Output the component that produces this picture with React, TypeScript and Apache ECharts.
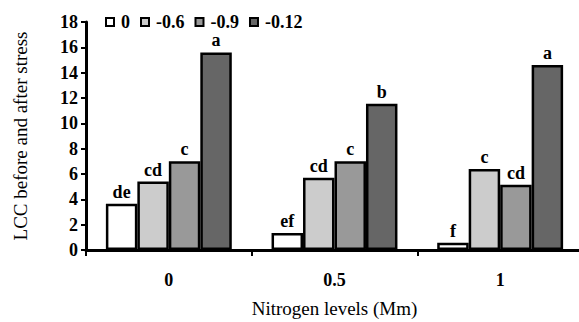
import React, { useEffect, useRef } from "react";
import * as echarts from "echarts";

const categories = ["0", "0.5", "1"];
const seriesNames = ["0", "-0.6", "-0.9", "-0.12"];
const s0 = [3.65, 1.35, 0.57];
const s1 = [5.4, 5.7, 6.4];
const s2 = [7.0, 7.0, 5.15];
const s3 = [15.6, 11.55, 14.6];
const letters0 = ["de", "ef", "f"];
const letters1 = ["cd", "cd", "c"];
const letters2 = ["c", "c", "cd"];
const letters3 = ["a", "b", "a"];
const colors = ["#ffffff", "#cccccc", "#999999", "#666666"];

const FONT = "Liberation Serif";
const boldText = { fontFamily: FONT, fontWeight: "bold" as const, fontSize: 18, color: "#000" };

export default function App() {
  const ref = useRef<HTMLDivElement>(null);
  useEffect(() => {
    document.body.style.margin = "0";
    if (!ref.current) return;
    const chart = echarts.init(ref.current, null, { renderer: "svg" });
    const values = [s0, s1, s2, s3];
    const letters = [letters0, letters1, letters2, letters3];
    chart.setOption({
      animation: false,
      legend: {
        left: 100,
        top: 8,
        itemWidth: 8,
        itemHeight: 8,
        itemGap: 10,
        icon: "rect",
        formatter: (n: string) => `{t|${n}}`,
        textStyle: { ...boldText, rich: { t: { ...boldText, padding: [0, 0, 0, 2] } } },
        data: seriesNames,
      },
      grid: { left: 86, right: -4, top: 22, bottom: 72, containLabel: false, outerBoundsMode: "none" },
      xAxis: {
        type: "category",
        data: categories,
        name: "Nitrogen levels (Mm)",
        nameLocation: "middle",
        nameGap: 49,
        nameTextStyle: { fontFamily: FONT, fontSize: 19, color: "#000" },
        axisLine: { lineStyle: { color: "#000", width: 3 } },
        axisTick: { show: true, length: 6, lineStyle: { color: "#000", width: 2 } },
        axisLabel: { ...boldText, margin: 21 },
      },
      yAxis: {
        type: "value",
        min: 0,
        max: 18,
        interval: 2,
        name: "LCC before and after stress",
        nameLocation: "middle",
        nameGap: 56,
        nameTextStyle: { fontFamily: FONT, fontSize: 19, color: "#000" },
        axisLine: { show: true, lineStyle: { color: "#000", width: 3 } },
        axisTick: { show: true, length: 5, lineStyle: { color: "#000", width: 2 } },
        axisLabel: { ...boldText, margin: 8 },
        splitLine: { show: false },
      },
      series: values.map((v, i) => ({
        name: seriesNames[i],
        type: "bar",
        data: v,
        barGap: "0%",
        barCategoryGap: "24%",
        itemStyle: { color: colors[i], borderColor: "#000", borderWidth: 2.5 },
        label: {
          show: true,
          position: "top",
          distance: 3,
          ...boldText,
          rich: { t: { ...boldText } },
          formatter: (p: any) => `{t|${letters[i][p.dataIndex]}}`,
        },
      })),
    });
    return () => chart.dispose();
  }, []);
  return <div ref={ref} style={{ width: 579, height: 322 }} />;
}
